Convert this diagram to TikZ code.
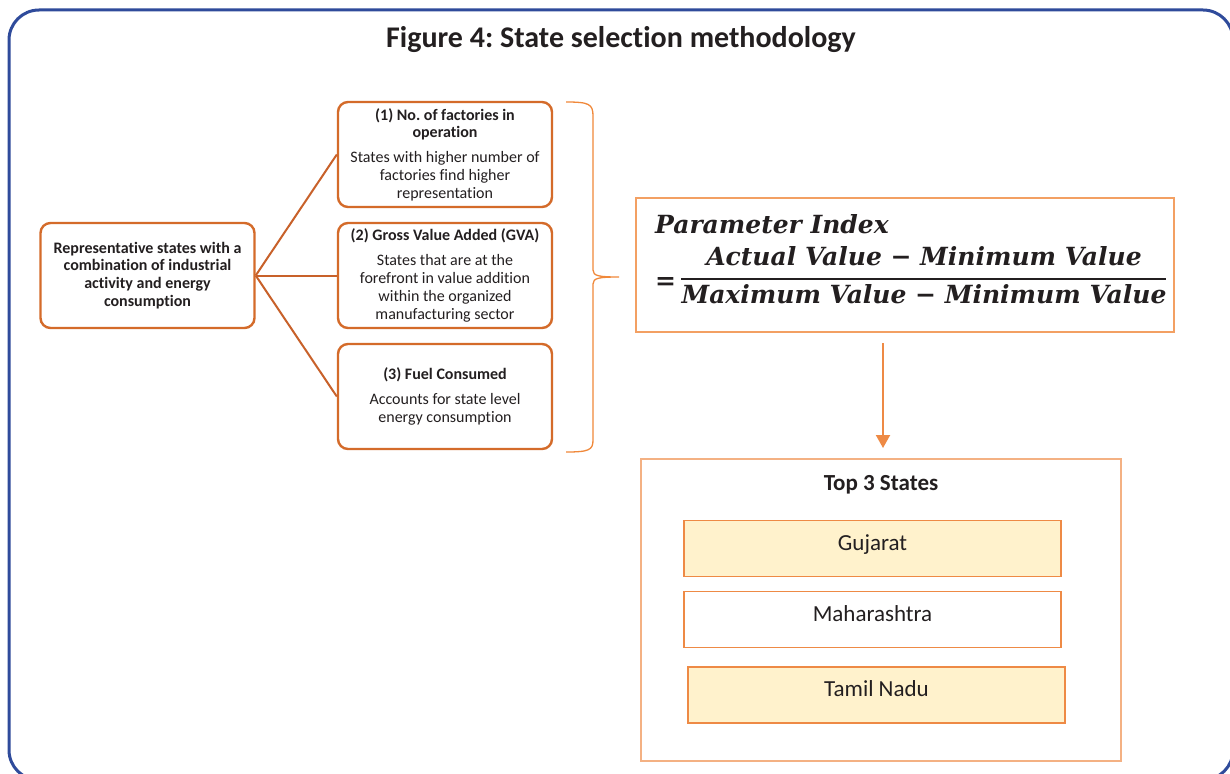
\documentclass[tikz,border=0pt]{standalone}
\usepackage{fontspec}
\setmainfont{Carlito}[Ligatures=NoCommon]
\newfontfamily\formfont{DejaVu Serif}
\usetikzlibrary{arrows.meta}
\definecolor{framebl}{HTML}{2F4B9B}
\definecolor{boxor}{HTML}{D46B2A}
\definecolor{linkor}{HTML}{C8612A}
\definecolor{braceor}{HTML}{F0883A}
\definecolor{formor}{HTML}{F3A063}
\definecolor{topor}{HTML}{F4B183}
\definecolor{stor}{HTML}{EE8A45}
\definecolor{stfill}{HTML}{FFF2CC}
\definecolor{txt}{HTML}{231F20}
\frenchspacing
\begin{document}
\begin{tikzpicture}[x=1pt,y=-1pt,
  every node/.style={text=txt, inner sep=0pt},
  critbox/.style={draw=boxor, line width=2.4pt, rounded corners=10pt,
    minimum width=214pt, minimum height=105pt, align=center,
    font=\fontsize{16}{17.8}\selectfont},
  link/.style={draw=linkor, line width=2pt},
  bracestyle/.style={draw=braceor, line width=1.3pt},
  formbox/.style={draw=formor, line width=1.6pt, minimum width=538pt, minimum height=134pt},
  ftext/.style={font=\formfont\bfseries\itshape\fontsize{25}{30}\selectfont},
  fbar/.style={draw=txt, line width=2pt},
  arr/.style={draw=stor, line width=2pt, -{Triangle[width=14pt,length=13pt]}},
  topbox/.style={draw=topor, line width=2pt, minimum width=480pt, minimum height=302pt},
  statebox/.style={draw=stor, line width=1.5pt, minimum width=377pt, minimum height=56pt,
    font=\fontsize{23}{27}\selectfont, text height=0.55em, text depth=0.25em},
]
\useasboundingbox (0,0) rectangle (1230,773);
\fill[white] (0,0) rectangle (1230,773);
\begin{scope}
\clip (0,0) rectangle (1230,773);
\draw[framebl, line width=3pt, rounded corners=30pt] (9,10) rectangle (1233,780);
\end{scope}

% title
\node[anchor=base, font=\fontsize{30}{35}\selectfont\bfseries] (title) at (621,48)
  {Figure 4: State selection methodology};

% left box
\node[critbox, font=\fontsize{16}{17.8}\selectfont\bfseries] (left) at (147.5,275.5)
  {Representative states with a\\combination of industrial\\activity and energy\\consumption};

% criteria boxes
\node[critbox] (b1) at (445,154.5)
  {\textbf{(1) No. of factories in}\\\textbf{operation}\\[7pt]States with higher number of\\factories find higher\\representation};
\node[critbox] (b2) at (445,275.5)
  {\textbf{(2) Gross Value Added (GVA)}\\[7pt]States that are at the\\forefront in value addition\\within the organized\\manufacturing sector};
\node[critbox] (b3) at (445,396.5)
  {\textbf{(3) Fuel Consumed}\\[7pt]Accounts for state level\\energy consumption};

\draw[link] (left.east) -- (b1.west);
\draw[link] (left.east) -- (b2.west);
\draw[link] (left.east) -- (b3.west);

% brace
\coordinate (brtop) at (566,102);
\coordinate (brtip) at (619,277);
\coordinate (brbot) at (566,452);
\draw[bracestyle] (brtop) .. controls (589,102) and (593,104) .. (593,116)
  -- (593,270) .. controls (593,276) and (599,277) .. (brtip)
  .. controls (599,277) and (593,278) .. (593,284)
  -- (593,440) .. controls (593,450) and (589,452) .. (brbot);

% formula
\node[formbox] (fbox) at (905,265) {};
\node[ftext, anchor=base west] (fpi) at (655,233) {Parameter Index};
\node[ftext, anchor=base west] (feq) at (655,289) {=};
\node[ftext, anchor=base] (fnum) at (924,265) {Actual Value − Minimum Value};
\node[ftext, anchor=base] (fden) at (924,303) {Maximum Value − Minimum Value};
\coordinate (barl) at (681,279);
\coordinate (barr) at (1166,279);
\draw[fbar] (barl) -- (barr);

% top 3 states
\node[topbox] (top3) at (881,610) {};
\node[anchor=base, font=\fontsize{23}{27}\selectfont\bfseries] (t3title) at (881,490) {Top 3 States};
\node[statebox, fill=stfill] (guj) at (872.5,548.5) {Gujarat};
\node[statebox, fill=white] (mah) at (872.5,619.5) {Maharashtra};
\node[statebox, fill=stfill] (tn) at (876.5,695) {Tamil Nadu};

\coordinate (arrstart) at (883,343);
\draw[arr] (arrstart) -- ([yshift=10pt]top3.north -| arrstart);
\end{tikzpicture}
\end{document}
